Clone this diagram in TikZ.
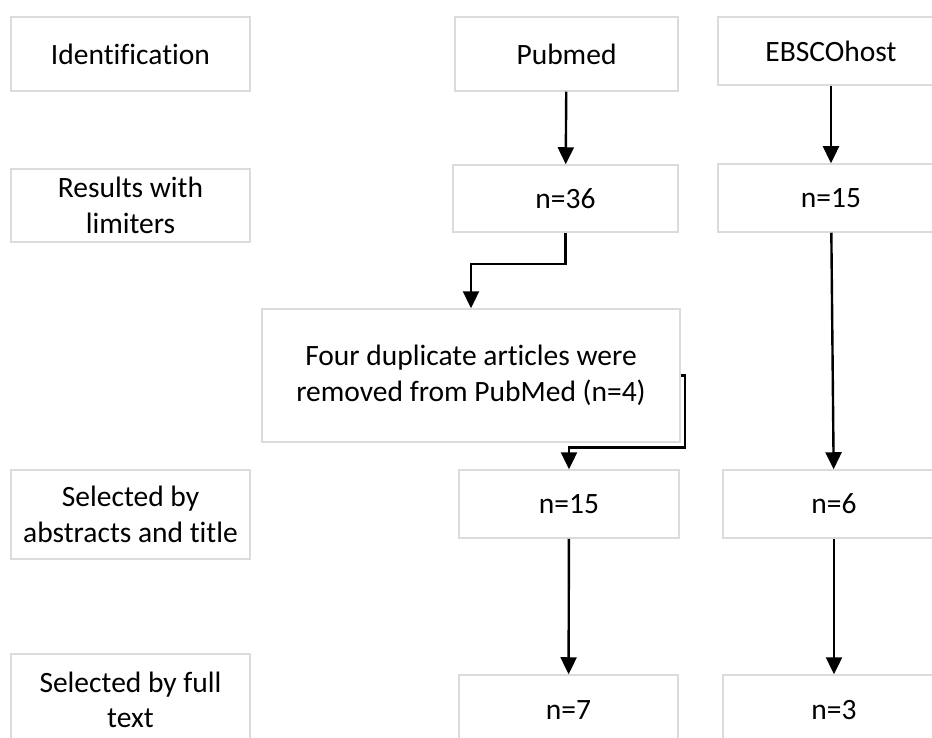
\documentclass[tikz,border=0pt]{standalone}
\usepackage{fontspec}
\setmainfont{Carlito}[Ligatures={NoCommon}]
\usetikzlibrary{arrows.meta}

\begin{document}
\begin{tikzpicture}[x=1pt, y=-1pt]

\useasboundingbox (0, 0) rectangle (932, 738) ;

\def\textsize{\fontsize{29.5}{35.5}\selectfont}

\tikzstyle{flow box} =
	[draw=black!14, line width=1.5pt, fill=white, inner sep=0pt, align=center, font=\textsize]
\tikzstyle{flow arrow} =
	[line width=2.4pt, color=black, -{Triangle[length=17pt, width=16pt]}]

% stages (left column)

\node [flow box, minimum width=239pt, minimum height=74pt] (ident) at (130.5, 54) {Identification} ;
\node [flow box, minimum width=239pt, minimum height=73pt] (limiters) at (130.5, 205.5) {Results with\\limiters} ;
\node [flow box, minimum width=239pt, minimum height=89pt] (abstracts) at (130.5, 514.5) {Selected by\\abstracts and title} ;
\node [flow box, minimum width=239pt, minimum height=92pt] (fulltext) at (130.5, 700) {Selected by full\\text} ;

% pubmed

\node [flow box, minimum width=223pt, minimum height=74pt] (pubmed) at (566.5, 54) {Pubmed} ;
\node [flow box, minimum width=225pt, minimum height=67pt] (pubmedlim) at (565.5, 198.5) {n=36} ;
\node [flow box, minimum width=418pt, minimum height=133pt] (duplicates) at (471, 375.5)
	{Four duplicate articles were\\removed from PubMed (n=4)} ;
\node [flow box, minimum width=220pt, minimum height=68pt] (pubmedabs) at (569, 504) {n=15} ;
\node [flow box, minimum width=219pt, minimum height=70pt] (pubmedfull) at (568.5, 710) {n=7} ;

% ebscohost

\node [flow box, minimum width=226pt, minimum height=68pt] (ebsco) at (831, 51) {EBSCOhost} ;
\node [flow box, minimum width=226pt, minimum height=68pt] (ebscolim) at (831, 198) {n=15} ;
\node [flow box, minimum width=222pt, minimum height=68pt] (ebscoabs) at (834, 504) {n=6} ;
\node [flow box, minimum width=222pt, minimum height=70pt] (ebscofull) at (834, 710) {n=3} ;

% arrows

\draw [flow arrow] (pubmed) -- (pubmedlim) ;
\draw [flow arrow] (pubmedlim.south) -- ++(0, 31) -| (duplicates.north) ;
\draw [flow arrow] (duplicates.east) -- ++(4, 0) -- ++(0, 72) -| (pubmedabs.north) ;
\draw [flow arrow] (pubmedabs) -- (pubmedfull) ;

\draw [flow arrow] (ebsco) -- (ebscolim) ;
\draw [flow arrow] (ebscolim) -- (ebscoabs) ;
\draw [flow arrow] (ebscoabs) -- (ebscofull) ;

\end{tikzpicture}
\end{document}
